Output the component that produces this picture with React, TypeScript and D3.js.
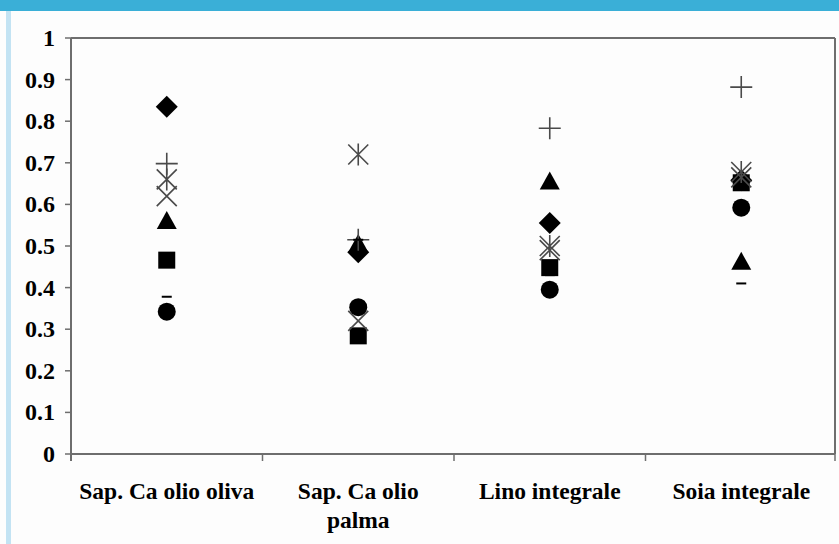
import React from "react";
import * as d3 from "d3";

const categories = ["Sap. Ca olio oliva", "Sap. Ca olio palma", "Lino integrale", "Soia integrale"];
const yTicks = [0, 0.1, 0.2, 0.3, 0.4, 0.5, 0.6, 0.7, 0.8, 0.9, 1];

const diamondValues = [0.835, 0.485, 0.555, 0.658];
const squareValues = [0.466, 0.284, 0.448, 0.652];
const triangleValues = [0.56, 0.505, 0.655, 0.462];
const xValues = [0.62, 0.32, 0.49, 0.665];
const starValues = [0.66, 0.72, 0.5, 0.678];
const circleValues = [0.342, 0.353, 0.395, 0.592];
const plusValues = [0.698, 0.515, 0.783, 0.882];
const dashValues = [0.378, 0.515, 0.43, 0.41];

const W = 839;
const H = 544;
const left = 71;
const right = 837;
const top = 38;
const bottom = 454;
const axisColor = "#6e6e6e";
const crossColor = "#4a4a4a";

function wrapLabel(s: string): string[] {
  if (s === "Sap. Ca olio palma") return ["Sap. Ca olio", "palma"];
  return [s];
}

export default function App() {
  const x = d3.scaleBand<string>().domain(categories).range([left, right]).padding(0);
  const y = d3.scaleLinear().domain([0, 1]).range([bottom, top]);
  const cx = (c: string) => (x(c) as number) + x.bandwidth() / 2;
  const font = "'Liberation Serif', 'Times New Roman', serif";

  const renderSeries = (vals: number[], kind: string) =>
    vals.map((v, i) => {
      const px = cx(categories[i]);
      const py = y(v);
      const key = kind + i;
      switch (kind) {
        case "diamond":
          return <path key={key} d={`M${px},${py - 11}L${px + 11},${py}L${px},${py + 11}L${px - 11},${py}Z`} fill="#000" />;
        case "square":
          return <rect key={key} x={px - 8.5} y={py - 8.5} width={17} height={17} fill="#000" />;
        case "triangle":
          return <path key={key} d={`M${px},${py - 10}L${px + 10},${py + 8}L${px - 10},${py + 8}Z`} fill="#000" />;
        case "circle":
          return <circle key={key} cx={px} cy={py} r={9} fill="#000" />;
        case "x":
          return <path key={key} d={`M${px - 10},${py - 10}L${px + 10},${py + 10}M${px + 10},${py - 10}L${px - 10},${py + 10}`} stroke={crossColor} strokeWidth={1.6} fill="none" />;
        case "star":
          return <path key={key} d={`M${px - 10},${py - 10}L${px + 10},${py + 10}M${px + 10},${py - 10}L${px - 10},${py + 10}M${px},${py - 11}L${px},${py + 11}`} stroke={crossColor} strokeWidth={1.6} fill="none" />;
        case "plus":
          return <path key={key} d={`M${px - 11},${py}L${px + 11},${py}M${px},${py - 11}L${px},${py + 11}`} stroke={crossColor} strokeWidth={1.6} fill="none" />;
        case "dash":
          return <line key={key} x1={px - 5} x2={px + 5} y1={py} y2={py} stroke="#000" strokeWidth={2} />;
        default:
          return null;
      }
    });

  const boundaries = [left, ...categories.map((c) => (x(c) as number) + x.bandwidth())];

  return (
    <svg width={W} height={H} style={{ position: "absolute", left: 0, top: 0, background: "#fdfdfd" }}>
      <rect x={0} y={0} width={W} height={H} fill="#fdfdfd" />
      <rect x={0} y={0} width={W} height={11} fill="#3aafd7" />
      <rect x={6} y={11} width={5} height={H - 11} fill="#c3e3f3" />

      {/* plot frame */}
      <line x1={left} x2={right - 2} y1={top} y2={top} stroke={axisColor} strokeWidth={2} />
      <line x1={right - 2} x2={right - 2} y1={top} y2={bottom} stroke={axisColor} strokeWidth={2} />

      {/* y axis */}
      <line x1={left} x2={left} y1={top} y2={bottom + 7} stroke={axisColor} strokeWidth={2} />
      {yTicks.map((t) => (
        <g key={t}>
          <line x1={left - 6} x2={left} y1={y(t)} y2={y(t)} stroke={axisColor} strokeWidth={1.5} />
          <text x={55} y={y(t) + 8} textAnchor="end" fontFamily={font} fontWeight="bold" fontSize={24} fill="#000">
            {String(t)}
          </text>
        </g>
      ))}

      {/* x axis */}
      <line x1={left} x2={right - 2} y1={bottom} y2={bottom} stroke={axisColor} strokeWidth={2} />
      {boundaries.map((b, i) => (
        <line key={i} x1={Math.min(b, right - 2)} x2={Math.min(b, right - 2)} y1={bottom} y2={bottom + 7} stroke={axisColor} strokeWidth={1.5} />
      ))}
      {categories.map((c) => (
        <text key={c} x={cx(c)} y={499} textAnchor="middle" fontFamily={font} fontWeight="bold" fontSize={23.5} fill="#000">
          {wrapLabel(c).map((line, j) => (
            <tspan key={j} x={cx(c)} dy={j === 0 ? 0 : 29}>
              {line}
            </tspan>
          ))}
        </text>
      ))}

      {renderSeries(diamondValues, "diamond")}
      {renderSeries(squareValues, "square")}
      {renderSeries(triangleValues, "triangle")}
      {renderSeries(xValues, "x")}
      {renderSeries(starValues, "star")}
      {renderSeries(circleValues, "circle")}
      {renderSeries(plusValues, "plus")}
      {renderSeries(dashValues, "dash")}
    </svg>
  );
}
